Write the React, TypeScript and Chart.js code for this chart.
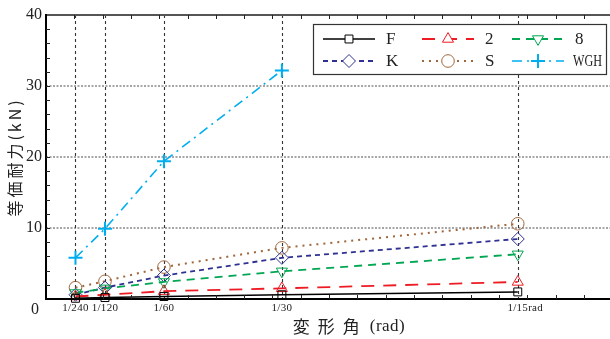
import React, { useEffect, useRef } from 'react';
import { Chart, registerables } from 'chart.js';
import { drawPoint } from 'chart.js/helpers';

Chart.register(...registerables);

// ---- data ----
const xValues = [1 / 240, 1 / 120, 1 / 60, 1 / 30, 1 / 15];
const xTickLabels = ['1/240', '1/120', '1/60', '1/30', '1/15rad'];
const yTickValues = [0, 10, 20, 30, 40];
const seriesNames = ['F', '2', '8', 'K', 'S', 'WGH'];
const valuesF = [0.1, 0.2, 0.35, 0.6, 1.0];
const values2 = [0.35, 0.6, 1.1, 1.5, 2.4];
const values8 = [0.85, 1.5, 2.4, 3.9, 6.3];
const valuesK = [0.6, 1.6, 3.3, 5.8, 8.45];
const valuesS = [1.6, 2.5, 4.5, 7.2, 10.6];
const valuesWGH = [5.8, 9.9, 19.4, 32.2];
const xAxisTitleCjk = '変形角';
const xAxisTitleUnit = '(rad)';
const yAxisTitle = '等価耐力(kN)';

const styles = [
  { color: '#000000', dash: [] as number[], width: 1.5, point: 'rect', radius: 5.6, rot: 0 },
  { color: '#ED1C24', dash: [13, 9], width: 1.8, point: 'triangle', radius: 6.4, rot: 0 },
  { color: '#00A651', dash: [8, 6], width: 1.8, point: 'triangle', radius: 6.4, rot: 180 },
  { color: '#2E3192', dash: [5, 4], width: 1.8, point: 'rectRot', radius: 6.5, rot: 0 },
  { color: '#A0673D', dash: [2, 5], width: 2, point: 'circle', radius: 6.3, rot: 0 },
  { color: '#00AEEF', dash: [10, 5, 2, 5], width: 1.6, point: 'cross', radius: 7, rot: 0 },
];
const seriesValues = [valuesF, values2, values8, valuesK, valuesS, valuesWGH];

const SERIF = '"Liberation Serif", "DejaVu Serif", serif';
const CJK = '"Noto Sans CJK JP", sans-serif';

const customPlugin = {
  id: 'customDraw',
  beforeDatasetsDraw(chart: any) {
    const { ctx, chartArea: a, scales } = chart;
    const x = scales.x;
    const y = scales.y;
    ctx.save();
    ctx.strokeStyle = 'rgba(150,150,150,0.85)';
    ctx.lineWidth = 2;
    ctx.setLineDash([2, 1.5]);
    yTickValues.forEach((v) => {
      if (v === 0 || v === 40) return;
      const py = Math.round(y.getPixelForValue(v));
      ctx.beginPath();
      ctx.moveTo(a.left, py);
      ctx.lineTo(a.right, py);
      ctx.stroke();
    });
    ctx.strokeStyle = '#333';
    ctx.lineWidth = 1.1;
    ctx.setLineDash([3, 3]);
    xValues.forEach((v) => {
      const px = Math.round(x.getPixelForValue(v)) + 0.5;
      ctx.beginPath();
      ctx.moveTo(px, a.top);
      ctx.lineTo(px, a.bottom);
      ctx.stroke();
    });
    ctx.restore();
  },
  afterDatasetsDraw(chart: any) {
    const { ctx, chartArea: a, scales } = chart;
    const x = scales.x;
    const y = scales.y;
    ctx.save();
    ctx.setLineDash([]);
    ctx.strokeStyle = '#555';
    ctx.lineWidth = 2;
    ctx.beginPath();
    ctx.moveTo(a.left, a.top);
    ctx.lineTo(a.right, a.top);
    ctx.stroke();
    ctx.strokeStyle = '#000';
    ctx.beginPath();
    ctx.moveTo(a.left, a.top - 1);
    ctx.lineTo(a.left, a.bottom);
    ctx.lineTo(a.right, a.bottom);
    ctx.stroke();
    ctx.lineWidth = 1;
    ctx.strokeStyle = '#222';
    for (let v = 0.004; v < x.max; v += 0.004) {
      const px = Math.round(x.getPixelForValue(v)) + 0.5;
      ctx.beginPath();
      ctx.moveTo(px, a.bottom);
      ctx.lineTo(px, a.bottom - 4);
      ctx.moveTo(px, a.top);
      ctx.lineTo(px, a.top + 4);
      ctx.stroke();
    }
    for (let v = 2; v < 40; v += 2) {
      const py = Math.round(y.getPixelForValue(v)) + 0.5;
      ctx.beginPath();
      ctx.moveTo(a.left, py);
      ctx.lineTo(a.left + 4, py);
      ctx.stroke();
    }
    ctx.fillStyle = '#222';
    ctx.font = `16px ${SERIF}`;
    ctx.textBaseline = 'middle';
    yTickValues.forEach((v) => {
      const py = y.getPixelForValue(v);
      if (v === 0) {
        ctx.textAlign = 'center';
        ctx.fillText(String(v), a.left - 11, py + 11);
      } else {
        ctx.textAlign = 'right';
        ctx.fillText(String(v), a.left - 4, py);
      }
    });
    ctx.font = `11px ${SERIF}`;
    (ctx as any).letterSpacing = '0.3px';
    ctx.textAlign = 'left';
    xValues.forEach((v, i) => {
      const label = xTickLabels[i];
      const core = label.replace('rad', '');
      const w = ctx.measureText(core).width;
      const px = x.getPixelForValue(v);
      ctx.fillText(label, px - w / 2, a.bottom + 9);
    });
    const cx = (a.left + a.right) / 2 + 21;
    const ty = a.bottom + 28;
    ctx.font = `17px ${CJK}`;
    (ctx as any).letterSpacing = '8px';
    const w1 = ctx.measureText(xAxisTitleCjk).width;
    ctx.font = `17px ${SERIF}`;
    (ctx as any).letterSpacing = '0.5px';
    const w2 = ctx.measureText(xAxisTitleUnit).width;
    const total = w1 + 2 + w2;
    const sx = cx - total / 2;
    ctx.font = `17px ${CJK}`;
    (ctx as any).letterSpacing = '8px';
    ctx.fillText(xAxisTitleCjk, sx, ty);
    ctx.font = `17px ${SERIF}`;
    (ctx as any).letterSpacing = '0.5px';
    ctx.fillText(xAxisTitleUnit, sx + w1 + 2, ty);
    ctx.save();
    ctx.translate(15, (a.top + a.bottom) / 2);
    ctx.rotate(-Math.PI / 2);
    ctx.font = `16px ${CJK}`;
    (ctx as any).letterSpacing = '3px';
    ctx.textAlign = 'center';
    ctx.fillText(yAxisTitle, 0, 0);
    ctx.restore();
    (ctx as any).letterSpacing = '0px';
    ctx.restore();
  },
  afterDraw(chart: any) {
    const { ctx } = chart;
    ctx.save();
    const bx = 313, by = 24, bw = 293, bh = 50;
    ctx.fillStyle = '#fff';
    ctx.fillRect(bx, by, bw, bh);
    ctx.strokeStyle = '#333';
    ctx.lineWidth = 1.2;
    ctx.strokeRect(bx + 0.5, by + 0.5, bw, bh);
    const cols = [323, 422, 512];
    const rows = [39, 61];
    seriesNames.forEach((name, i) => {
      const s = styles[i];
      const x0 = cols[i % 3];
      const yy = rows[Math.floor(i / 3)];
      ctx.strokeStyle = s.color;
      ctx.lineWidth = s.width;
      ctx.setLineDash(s.dash);
      ctx.beginPath();
      ctx.moveTo(x0, yy);
      ctx.lineTo(x0 + 52, yy);
      ctx.stroke();
      ctx.setLineDash([]);
      ctx.lineWidth = s.point === 'cross' ? 2 : 1;
      ctx.fillStyle = '#fff';
      drawPoint(ctx, { pointStyle: s.point as any, rotation: s.rot, radius: s.radius, borderWidth: ctx.lineWidth }, x0 + 26, yy);
      ctx.fillStyle = '#222';
      ctx.font = `17px ${SERIF}`;
      ctx.textAlign = 'left';
      ctx.textBaseline = 'middle';
      const tx = x0 + 63;
      const tw = ctx.measureText(name).width;
      const maxW = 29;
      if (tw > maxW) {
        ctx.save();
        ctx.translate(tx - 2, yy + 1);
        ctx.scale(maxW / tw, 1);
        ctx.fillText(name, 0, 0);
        ctx.restore();
      } else {
        ctx.fillText(name, tx, yy + 1);
      }
    });
    ctx.restore();
  },
};

export default function App() {
  const ref = useRef<HTMLCanvasElement>(null);
  useEffect(() => {
    const datasets = seriesNames.map((name, i) => {
      const s = styles[i];
      const vals = seriesValues[i];
      return {
        label: name,
        data: vals.map((v, j) => ({ x: xValues[j], y: v })),
        borderColor: s.color,
        borderWidth: s.width,
        borderDash: s.dash,
        pointStyle: s.point,
        pointRotation: s.rot,
        pointRadius: s.radius,
        pointBorderColor: s.color,
        pointBackgroundColor: 'rgba(0,0,0,0)',
        pointBorderWidth: s.point === 'cross' ? 2 : 1,
        fill: false,
        tension: 0,
        clip: false as any,
      };
    });
    const chart = new Chart(ref.current as HTMLCanvasElement, {
      type: 'line',
      data: { datasets: datasets as any },
      options: {
        animation: false,
        responsive: false,
        devicePixelRatio: 1,
        layout: { autoPadding: false, padding: { left: 46, top: 15, right: 0, bottom: 40 } } as any,
        scales: {
          x: { type: 'linear', display: false, min: 0, max: 0.0797 },
          y: { type: 'linear', display: false, min: 0, max: 40 },
        },
        plugins: { legend: { display: false }, tooltip: { enabled: false } },
      },
      plugins: [customPlugin],
    });
    return () => chart.destroy();
  }, []);
  return (
    <div style={{ position: 'fixed', left: 0, top: 0, width: 610, height: 339, background: '#fff' }}>
      <canvas ref={ref} width={610} height={339} style={{ display: 'block' }} />
    </div>
  );
}
